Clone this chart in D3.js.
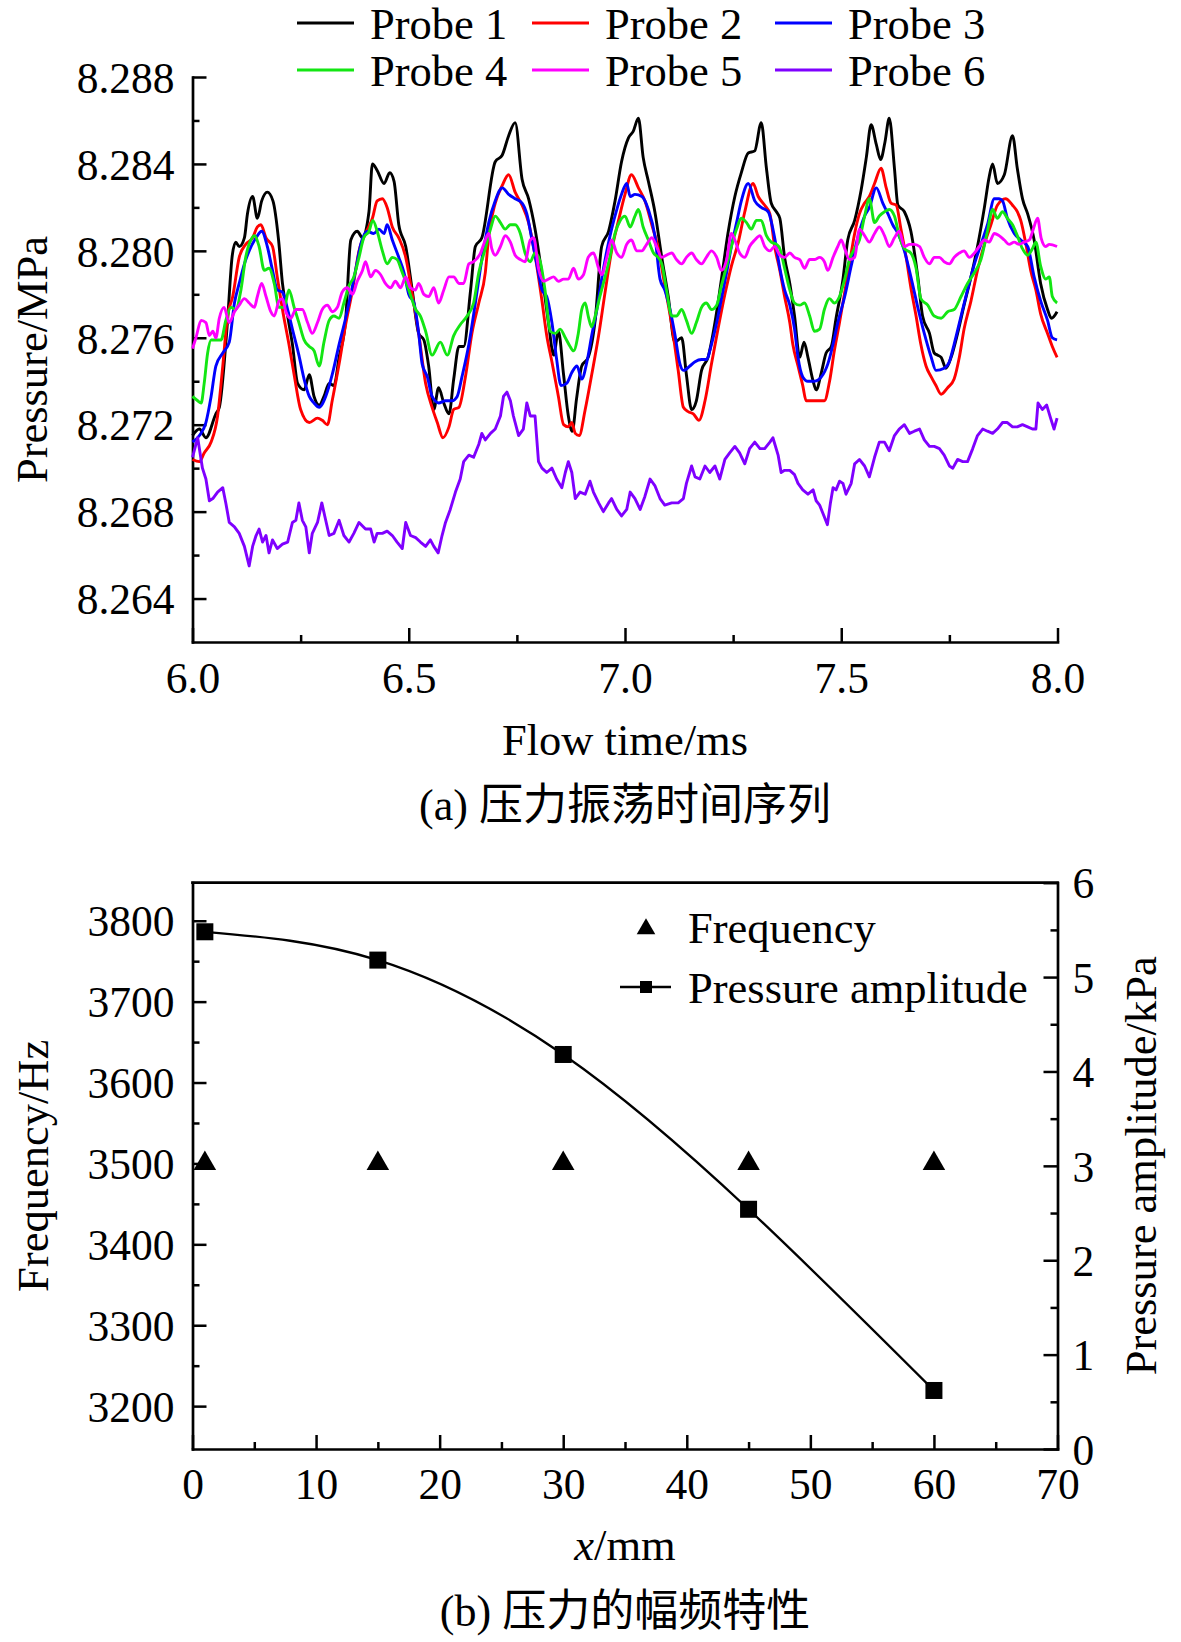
<!DOCTYPE html>
<html>
<head>
<meta charset="utf-8">
<script src="https://cdn.jsdelivr.net/npm/d3@7"></script>
<style>
  html, body { margin: 0; padding: 0; background: #fff; }
  svg { display: block; }
</style>
</head>
<body>
<div id="figure"></div>
<script>
// ---- (a) pressure time series, [flow time (ms), pressure (MPa)] ----
const probe1 = [[6.000,8.2715],[6.016,8.2718],[6.031,8.2714],[6.054,8.2725],[6.062,8.2728],[6.080,8.2765],[6.092,8.2798],[6.100,8.2804],[6.108,8.2802],[6.120,8.2806],[6.127,8.2817],[6.139,8.2825],[6.150,8.2815],[6.160,8.2823],[6.173,8.2827],[6.186,8.2823],[6.199,8.2805],[6.208,8.2785],[6.220,8.2770],[6.231,8.2757],[6.243,8.2739],[6.258,8.2736],[6.270,8.2743],[6.281,8.2733],[6.293,8.2729],[6.304,8.2733],[6.316,8.2739],[6.327,8.2738],[6.339,8.2751],[6.354,8.2768],[6.366,8.2805],[6.381,8.2809],[6.393,8.2806],[6.408,8.2818],[6.416,8.2840],[6.427,8.2837],[6.443,8.2831],[6.456,8.2836],[6.466,8.2832],[6.477,8.2812],[6.493,8.2802],[6.508,8.2782],[6.523,8.2762],[6.535,8.2759],[6.546,8.2747],[6.558,8.2727],[6.569,8.2737],[6.581,8.2730],[6.593,8.2725],[6.604,8.2741],[6.616,8.2756],[6.627,8.2756],[6.643,8.2782],[6.654,8.2802],[6.669,8.2806],[6.700,8.2841],[6.716,8.2844],[6.731,8.2853],[6.746,8.2859],[6.762,8.2833],[6.777,8.2824],[6.792,8.2810],[6.808,8.2789],[6.823,8.2767],[6.835,8.2752],[6.846,8.2763],[6.858,8.2743],[6.869,8.2724],[6.878,8.2717],[6.888,8.2732],[6.900,8.2747],[6.915,8.2751],[6.931,8.2768],[6.946,8.2802],[6.962,8.2809],[6.977,8.2823],[6.992,8.2841],[7.008,8.2852],[7.019,8.2855],[7.031,8.2861],[7.042,8.2843],[7.054,8.2832],[7.069,8.2818],[7.085,8.2797],[7.100,8.2779],[7.115,8.2758],[7.131,8.2760],[7.142,8.2743],[7.154,8.2727],[7.165,8.2731],[7.177,8.2745],[7.192,8.2751],[7.208,8.2767],[7.223,8.2787],[7.238,8.2808],[7.254,8.2825],[7.269,8.2836],[7.285,8.2845],[7.300,8.2846],[7.315,8.2859],[7.327,8.2838],[7.338,8.2822],[7.350,8.2818],[7.358,8.2815],[7.369,8.2797],[7.381,8.2785],[7.392,8.2770],[7.404,8.2751],[7.414,8.2758],[7.423,8.2751],[7.435,8.2740],[7.442,8.2736],[7.454,8.2744],[7.465,8.2753],[7.477,8.2756],[7.488,8.2769],[7.504,8.2787],[7.515,8.2805],[7.531,8.2814],[7.546,8.2828],[7.558,8.2843],[7.569,8.2858],[7.581,8.2849],[7.591,8.2842],[7.601,8.2850],[7.611,8.2861],[7.623,8.2838],[7.631,8.2821],[7.646,8.2818],[7.661,8.2809],[7.677,8.2788],[7.688,8.2770],[7.704,8.2762],[7.715,8.2753],[7.723,8.2752],[7.731,8.2751],[7.742,8.2746],[7.754,8.2751],[7.769,8.2762],[7.784,8.2775],[7.800,8.2788],[7.815,8.2802],[7.831,8.2820],[7.842,8.2834],[7.850,8.2840],[7.861,8.2831],[7.877,8.2835],[7.896,8.2853],[7.907,8.2838],[7.919,8.2824],[7.931,8.2817],[7.946,8.2805],[7.961,8.2785],[7.977,8.2773],[7.986,8.2769],[7.999,8.2772]];

const probe2 = [[6.000,8.2704],[6.016,8.2703],[6.027,8.2707],[6.043,8.2712],[6.058,8.2724],[6.070,8.2747],[6.081,8.2770],[6.093,8.2779],[6.108,8.2797],[6.123,8.2803],[6.139,8.2806],[6.150,8.2811],[6.158,8.2812],[6.170,8.2806],[6.185,8.2802],[6.196,8.2788],[6.208,8.2773],[6.223,8.2757],[6.235,8.2743],[6.250,8.2727],[6.270,8.2721],[6.289,8.2723],[6.300,8.2722],[6.312,8.2720],[6.323,8.2731],[6.339,8.2748],[6.354,8.2766],[6.370,8.2782],[6.385,8.2800],[6.400,8.2808],[6.416,8.2815],[6.427,8.2823],[6.439,8.2824],[6.450,8.2820],[6.462,8.2811],[6.477,8.2806],[6.493,8.2797],[6.508,8.2780],[6.523,8.2762],[6.539,8.2739],[6.554,8.2728],[6.566,8.2721],[6.579,8.2714],[6.593,8.2719],[6.604,8.2727],[6.616,8.2728],[6.631,8.2742],[6.646,8.2762],[6.662,8.2776],[6.677,8.2790],[6.685,8.2807],[6.700,8.2822],[6.716,8.2830],[6.731,8.2835],[6.746,8.2827],[6.762,8.2821],[6.777,8.2813],[6.792,8.2798],[6.808,8.2777],[6.819,8.2761],[6.831,8.2749],[6.846,8.2733],[6.858,8.2720],[6.869,8.2719],[6.877,8.2721],[6.885,8.2716],[6.894,8.2715],[6.908,8.2727],[6.923,8.2743],[6.939,8.2761],[6.954,8.2781],[6.969,8.2800],[6.985,8.2814],[7.000,8.2826],[7.015,8.2835],[7.031,8.2829],[7.046,8.2823],[7.062,8.2812],[7.077,8.2801],[7.092,8.2784],[7.108,8.2766],[7.123,8.2745],[7.135,8.2728],[7.146,8.2726],[7.158,8.2725],[7.171,8.2722],[7.185,8.2731],[7.200,8.2748],[7.215,8.2764],[7.231,8.2780],[7.246,8.2793],[7.262,8.2804],[7.277,8.2818],[7.296,8.2831],[7.308,8.2825],[7.323,8.2821],[7.335,8.2817],[7.346,8.2802],[7.358,8.2791],[7.369,8.2779],[7.381,8.2767],[7.388,8.2757],[7.400,8.2747],[7.411,8.2738],[7.419,8.2731],[7.431,8.2731],[7.446,8.2731],[7.461,8.2731],[7.473,8.2740],[7.484,8.2754],[7.496,8.2767],[7.508,8.2781],[7.519,8.2794],[7.531,8.2808],[7.542,8.2817],[7.554,8.2822],[7.565,8.2825],[7.577,8.2831],[7.592,8.2838],[7.604,8.2829],[7.615,8.2822],[7.627,8.2821],[7.638,8.2810],[7.650,8.2797],[7.661,8.2783],[7.673,8.2770],[7.684,8.2757],[7.696,8.2747],[7.708,8.2742],[7.719,8.2738],[7.731,8.2734],[7.746,8.2737],[7.761,8.2741],[7.773,8.2751],[7.784,8.2764],[7.800,8.2777],[7.815,8.2791],[7.831,8.2803],[7.846,8.2812],[7.861,8.2821],[7.880,8.2824],[7.896,8.2821],[7.907,8.2818],[7.915,8.2814],[7.927,8.2803],[7.938,8.2791],[7.950,8.2782],[7.961,8.2771],[7.977,8.2762],[7.988,8.2756],[7.999,8.2751]];

const probe3 = [[6.000,8.2712],[6.016,8.2715],[6.031,8.2721],[6.043,8.2733],[6.054,8.2747],[6.070,8.2753],[6.085,8.2758],[6.097,8.2776],[6.108,8.2785],[6.120,8.2794],[6.131,8.2800],[6.147,8.2806],[6.160,8.2809],[6.173,8.2802],[6.185,8.2791],[6.196,8.2782],[6.208,8.2781],[6.220,8.2773],[6.231,8.2764],[6.246,8.2752],[6.258,8.2741],[6.270,8.2733],[6.281,8.2730],[6.293,8.2728],[6.308,8.2733],[6.323,8.2743],[6.339,8.2757],[6.354,8.2769],[6.366,8.2780],[6.377,8.2791],[6.389,8.2803],[6.404,8.2809],[6.419,8.2808],[6.431,8.2810],[6.443,8.2808],[6.450,8.2812],[6.462,8.2805],[6.477,8.2797],[6.489,8.2790],[6.500,8.2780],[6.512,8.2776],[6.523,8.2762],[6.531,8.2748],[6.543,8.2742],[6.554,8.2733],[6.569,8.2730],[6.585,8.2731],[6.600,8.2731],[6.612,8.2733],[6.623,8.2742],[6.639,8.2757],[6.654,8.2776],[6.669,8.2796],[6.685,8.2813],[6.700,8.2823],[6.716,8.2829],[6.731,8.2826],[6.746,8.2824],[6.762,8.2822],[6.773,8.2817],[6.785,8.2805],[6.796,8.2794],[6.808,8.2782],[6.819,8.2779],[6.831,8.2767],[6.842,8.2750],[6.852,8.2738],[6.865,8.2739],[6.877,8.2744],[6.889,8.2747],[6.900,8.2741],[6.912,8.2749],[6.923,8.2761],[6.935,8.2773],[6.946,8.2787],[6.958,8.2800],[6.969,8.2810],[6.981,8.2819],[6.992,8.2826],[7.004,8.2831],[7.012,8.2825],[7.023,8.2826],[7.039,8.2825],[7.054,8.2819],[7.069,8.2807],[7.081,8.2787],[7.092,8.2782],[7.104,8.2773],[7.115,8.2762],[7.127,8.2748],[7.135,8.2745],[7.150,8.2747],[7.162,8.2749],[7.177,8.2750],[7.188,8.2750],[7.200,8.2757],[7.212,8.2767],[7.223,8.2778],[7.235,8.2790],[7.246,8.2802],[7.258,8.2813],[7.269,8.2823],[7.285,8.2831],[7.300,8.2823],[7.315,8.2820],[7.331,8.2818],[7.346,8.2806],[7.358,8.2792],[7.369,8.2782],[7.381,8.2775],[7.392,8.2764],[7.400,8.2751],[7.411,8.2742],[7.423,8.2740],[7.438,8.2740],[7.454,8.2742],[7.469,8.2748],[7.481,8.2757],[7.492,8.2767],[7.508,8.2779],[7.523,8.2793],[7.538,8.2806],[7.554,8.2816],[7.565,8.2820],[7.581,8.2829],[7.596,8.2822],[7.608,8.2817],[7.619,8.2812],[7.631,8.2808],[7.646,8.2800],[7.661,8.2788],[7.677,8.2774],[7.692,8.2762],[7.708,8.2751],[7.719,8.2745],[7.738,8.2746],[7.750,8.2749],[7.761,8.2757],[7.777,8.2770],[7.792,8.2782],[7.808,8.2794],[7.823,8.2803],[7.838,8.2812],[7.854,8.2824],[7.865,8.2824],[7.873,8.2823],[7.884,8.2815],[7.900,8.2808],[7.915,8.2805],[7.931,8.2802],[7.946,8.2788],[7.961,8.2777],[7.977,8.2768],[7.988,8.2760],[7.999,8.2759]];

const probe4 = [[6.000,8.2733],[6.012,8.2731],[6.020,8.2730],[6.027,8.2739],[6.035,8.2753],[6.043,8.2759],[6.054,8.2759],[6.066,8.2759],[6.077,8.2768],[6.089,8.2774],[6.100,8.2773],[6.112,8.2782],[6.123,8.2797],[6.135,8.2805],[6.143,8.2807],[6.154,8.2802],[6.166,8.2791],[6.177,8.2792],[6.189,8.2785],[6.200,8.2774],[6.212,8.2774],[6.223,8.2782],[6.235,8.2774],[6.246,8.2767],[6.258,8.2759],[6.270,8.2756],[6.281,8.2754],[6.293,8.2747],[6.304,8.2758],[6.316,8.2768],[6.327,8.2770],[6.339,8.2769],[6.350,8.2776],[6.362,8.2784],[6.373,8.2788],[6.385,8.2797],[6.396,8.2806],[6.408,8.2809],[6.417,8.2814],[6.427,8.2809],[6.439,8.2800],[6.450,8.2794],[6.462,8.2797],[6.473,8.2796],[6.485,8.2790],[6.500,8.2782],[6.516,8.2773],[6.527,8.2770],[6.539,8.2763],[6.554,8.2752],[6.573,8.2758],[6.589,8.2752],[6.604,8.2761],[6.619,8.2766],[6.635,8.2770],[6.650,8.2776],[6.662,8.2790],[6.677,8.2801],[6.689,8.2810],[6.700,8.2816],[6.712,8.2813],[6.723,8.2810],[6.735,8.2812],[6.746,8.2812],[6.758,8.2808],[6.769,8.2799],[6.781,8.2795],[6.792,8.2799],[6.804,8.2795],[6.815,8.2782],[6.827,8.2763],[6.839,8.2762],[6.850,8.2764],[6.862,8.2760],[6.873,8.2756],[6.881,8.2754],[6.892,8.2762],[6.900,8.2773],[6.908,8.2776],[6.915,8.2770],[6.923,8.2765],[6.931,8.2770],[6.942,8.2779],[6.954,8.2788],[6.965,8.2797],[6.977,8.2808],[6.989,8.2814],[7.000,8.2816],[7.012,8.2811],[7.023,8.2816],[7.031,8.2819],[7.042,8.2811],[7.054,8.2805],[7.066,8.2799],[7.077,8.2797],[7.085,8.2794],[7.096,8.2782],[7.108,8.2770],[7.119,8.2770],[7.131,8.2773],[7.142,8.2768],[7.154,8.2762],[7.165,8.2767],[7.177,8.2774],[7.188,8.2776],[7.200,8.2773],[7.212,8.2775],[7.223,8.2784],[7.235,8.2793],[7.246,8.2802],[7.258,8.2810],[7.269,8.2815],[7.281,8.2813],[7.292,8.2810],[7.304,8.2814],[7.315,8.2814],[7.327,8.2807],[7.338,8.2804],[7.350,8.2803],[7.358,8.2801],[7.369,8.2792],[7.381,8.2782],[7.392,8.2776],[7.404,8.2775],[7.415,8.2776],[7.427,8.2770],[7.438,8.2763],[7.450,8.2764],[7.461,8.2773],[7.473,8.2778],[7.484,8.2776],[7.496,8.2779],[7.508,8.2787],[7.519,8.2796],[7.531,8.2801],[7.542,8.2805],[7.554,8.2816],[7.565,8.2824],[7.577,8.2813],[7.588,8.2816],[7.600,8.2818],[7.611,8.2819],[7.623,8.2816],[7.634,8.2807],[7.646,8.2801],[7.661,8.2799],[7.673,8.2792],[7.684,8.2778],[7.700,8.2775],[7.715,8.2770],[7.731,8.2769],[7.746,8.2772],[7.761,8.2773],[7.777,8.2779],[7.792,8.2785],[7.808,8.2790],[7.823,8.2796],[7.838,8.2809],[7.850,8.2819],[7.861,8.2815],[7.873,8.2818],[7.884,8.2815],[7.896,8.2812],[7.907,8.2807],[7.919,8.2801],[7.931,8.2798],[7.942,8.2801],[7.950,8.2804],[7.961,8.2793],[7.973,8.2787],[7.981,8.2788],[7.988,8.2779],[7.999,8.2776]];

const probe5 = [[6.000,8.2755],[6.008,8.2760],[6.020,8.2768],[6.031,8.2767],[6.039,8.2761],[6.047,8.2763],[6.054,8.2760],[6.062,8.2769],[6.073,8.2774],[6.085,8.2767],[6.097,8.2772],[6.108,8.2775],[6.120,8.2778],[6.131,8.2776],[6.143,8.2774],[6.150,8.2779],[6.160,8.2785],[6.170,8.2779],[6.181,8.2772],[6.189,8.2770],[6.200,8.2777],[6.208,8.2778],[6.216,8.2772],[6.227,8.2769],[6.239,8.2773],[6.254,8.2773],[6.266,8.2767],[6.277,8.2762],[6.289,8.2767],[6.300,8.2773],[6.312,8.2775],[6.323,8.2772],[6.335,8.2774],[6.346,8.2781],[6.358,8.2783],[6.370,8.2780],[6.381,8.2786],[6.393,8.2791],[6.400,8.2795],[6.412,8.2788],[6.423,8.2791],[6.435,8.2789],[6.446,8.2785],[6.458,8.2783],[6.469,8.2786],[6.481,8.2783],[6.493,8.2788],[6.504,8.2783],[6.515,8.2782],[6.523,8.2785],[6.535,8.2780],[6.546,8.2779],[6.558,8.2783],[6.569,8.2776],[6.581,8.2782],[6.593,8.2788],[6.604,8.2788],[6.616,8.2785],[6.627,8.2785],[6.639,8.2794],[6.650,8.2795],[6.666,8.2799],[6.677,8.2805],[6.685,8.2808],[6.692,8.2801],[6.700,8.2798],[6.712,8.2802],[6.723,8.2807],[6.735,8.2804],[6.746,8.2798],[6.758,8.2796],[6.769,8.2795],[6.781,8.2805],[6.789,8.2806],[6.800,8.2792],[6.812,8.2786],[6.823,8.2787],[6.835,8.2788],[6.846,8.2786],[6.858,8.2787],[6.869,8.2787],[6.881,8.2792],[6.892,8.2787],[6.904,8.2789],[6.915,8.2797],[6.927,8.2799],[6.939,8.2792],[6.946,8.2789],[6.958,8.2797],[6.969,8.2805],[6.981,8.2799],[6.992,8.2797],[7.004,8.2803],[7.015,8.2805],[7.027,8.2800],[7.039,8.2800],[7.050,8.2803],[7.062,8.2806],[7.073,8.2802],[7.085,8.2797],[7.096,8.2798],[7.108,8.2799],[7.119,8.2796],[7.131,8.2794],[7.142,8.2797],[7.154,8.2799],[7.165,8.2796],[7.177,8.2794],[7.188,8.2797],[7.200,8.2800],[7.212,8.2797],[7.223,8.2791],[7.235,8.2796],[7.246,8.2808],[7.254,8.2805],[7.265,8.2799],[7.277,8.2797],[7.288,8.2802],[7.300,8.2805],[7.312,8.2807],[7.323,8.2802],[7.335,8.2800],[7.346,8.2802],[7.358,8.2798],[7.369,8.2797],[7.381,8.2799],[7.392,8.2797],[7.404,8.2796],[7.415,8.2792],[7.427,8.2796],[7.438,8.2796],[7.450,8.2797],[7.461,8.2795],[7.469,8.2791],[7.481,8.2797],[7.492,8.2802],[7.500,8.2805],[7.508,8.2801],[7.519,8.2796],[7.531,8.2797],[7.542,8.2810],[7.554,8.2807],[7.565,8.2804],[7.577,8.2808],[7.588,8.2811],[7.600,8.2807],[7.611,8.2802],[7.623,8.2806],[7.634,8.2809],[7.646,8.2802],[7.658,8.2803],[7.669,8.2803],[7.681,8.2802],[7.692,8.2797],[7.704,8.2794],[7.715,8.2797],[7.727,8.2797],[7.738,8.2795],[7.750,8.2794],[7.761,8.2797],[7.773,8.2799],[7.784,8.2800],[7.796,8.2797],[7.808,8.2799],[7.819,8.2802],[7.831,8.2805],[7.842,8.2804],[7.854,8.2808],[7.865,8.2807],[7.877,8.2805],[7.888,8.2803],[7.900,8.2804],[7.911,8.2803],[7.923,8.2804],[7.935,8.2805],[7.944,8.2810],[7.954,8.2815],[7.962,8.2806],[7.973,8.2802],[7.981,8.2803],[7.999,8.2802]];

const probe6 = [[6.000,8.2705],[6.012,8.2714],[6.023,8.2700],[6.031,8.2695],[6.039,8.2685],[6.047,8.2686],[6.058,8.2689],[6.070,8.2691],[6.077,8.2684],[6.085,8.2675],[6.097,8.2673],[6.108,8.2670],[6.120,8.2664],[6.131,8.2655],[6.139,8.2664],[6.147,8.2669],[6.154,8.2672],[6.162,8.2666],[6.170,8.2669],[6.177,8.2661],[6.185,8.2667],[6.196,8.2663],[6.208,8.2665],[6.220,8.2666],[6.231,8.2675],[6.239,8.2676],[6.246,8.2684],[6.254,8.2676],[6.262,8.2673],[6.270,8.2661],[6.277,8.2670],[6.289,8.2675],[6.299,8.2684],[6.308,8.2676],[6.316,8.2669],[6.327,8.2670],[6.339,8.2676],[6.350,8.2669],[6.362,8.2666],[6.373,8.2670],[6.385,8.2675],[6.400,8.2672],[6.412,8.2672],[6.420,8.2666],[6.427,8.2670],[6.439,8.2670],[6.450,8.2671],[6.462,8.2669],[6.473,8.2666],[6.485,8.2663],[6.493,8.2675],[6.504,8.2669],[6.516,8.2668],[6.527,8.2666],[6.539,8.2664],[6.550,8.2667],[6.558,8.2664],[6.568,8.2661],[6.577,8.2669],[6.585,8.2675],[6.596,8.2681],[6.608,8.2689],[6.619,8.2695],[6.627,8.2703],[6.639,8.2706],[6.650,8.2705],[6.662,8.2711],[6.669,8.2716],[6.677,8.2713],[6.689,8.2716],[6.700,8.2718],[6.712,8.2724],[6.719,8.2733],[6.727,8.2735],[6.735,8.2731],[6.742,8.2724],[6.754,8.2715],[6.765,8.2718],[6.773,8.2730],[6.781,8.2724],[6.792,8.2724],[6.800,8.2703],[6.808,8.2700],[6.819,8.2698],[6.831,8.2700],[6.842,8.2695],[6.854,8.2691],[6.862,8.2698],[6.869,8.2703],[6.877,8.2698],[6.885,8.2686],[6.896,8.2689],[6.908,8.2688],[6.919,8.2694],[6.927,8.2689],[6.939,8.2684],[6.950,8.2680],[6.962,8.2684],[6.969,8.2686],[6.981,8.2681],[6.992,8.2678],[7.004,8.2681],[7.012,8.2689],[7.023,8.2686],[7.035,8.2681],[7.046,8.2687],[7.058,8.2695],[7.069,8.2692],[7.081,8.2686],[7.092,8.2683],[7.108,8.2684],[7.123,8.2684],[7.135,8.2686],[7.142,8.2693],[7.154,8.2701],[7.162,8.2696],[7.173,8.2695],[7.185,8.2701],[7.196,8.2698],[7.208,8.2701],[7.219,8.2695],[7.231,8.2704],[7.242,8.2707],[7.254,8.2710],[7.265,8.2707],[7.277,8.2702],[7.288,8.2709],[7.300,8.2712],[7.312,8.2709],[7.323,8.2709],[7.335,8.2712],[7.342,8.2714],[7.354,8.2706],[7.361,8.2698],[7.369,8.2699],[7.381,8.2699],[7.392,8.2697],[7.400,8.2693],[7.411,8.2690],[7.423,8.2688],[7.435,8.2690],[7.442,8.2685],[7.450,8.2683],[7.458,8.2679],[7.468,8.2674],[7.475,8.2684],[7.481,8.2691],[7.488,8.2690],[7.496,8.2694],[7.504,8.2693],[7.511,8.2688],[7.523,8.2693],[7.531,8.2702],[7.542,8.2704],[7.554,8.2701],[7.565,8.2696],[7.577,8.2705],[7.588,8.2712],[7.600,8.2712],[7.611,8.2708],[7.623,8.2715],[7.634,8.2718],[7.646,8.2720],[7.658,8.2716],[7.669,8.2717],[7.681,8.2718],[7.692,8.2713],[7.704,8.2710],[7.715,8.2710],[7.727,8.2709],[7.738,8.2706],[7.750,8.2701],[7.758,8.2700],[7.769,8.2704],[7.781,8.2703],[7.792,8.2703],[7.804,8.2709],[7.815,8.2715],[7.827,8.2718],[7.838,8.2717],[7.850,8.2716],[7.861,8.2718],[7.873,8.2721],[7.884,8.2721],[7.896,8.2719],[7.907,8.2719],[7.919,8.2720],[7.931,8.2719],[7.942,8.2718],[7.950,8.2718],[7.955,8.2730],[7.965,8.2727],[7.975,8.2729],[7.984,8.2723],[7.992,8.2718],[7.999,8.2723]];

const probeNames = ['Probe 1', 'Probe 2', 'Probe 3', 'Probe 4', 'Probe 5', 'Probe 6'];
const probeColors = ['#000000', '#ff0000', '#0000ff', '#13e613', '#ff00ff', '#7f00ff'];

const timeTicks = [6.0, 6.5, 7.0, 7.5, 8.0];
const timeMinorTicks = [6.25, 6.75, 7.25, 7.75];
const pressureTicks = [8.264, 8.268, 8.272, 8.276, 8.280, 8.284, 8.288];
const pressureMinorTicks = [8.266, 8.270, 8.274, 8.278, 8.282, 8.286];

// ---- (b) amplitude / frequency versus probe position ----
const positions = [1, 15, 30, 45, 60];           // x, mm
const frequencyHz = [3500, 3500, 3500, 3500, 3500];
const amplitudeKPa = [5.48, 5.18, 4.18, 2.54, 0.62];

const positionTicks = [0, 10, 20, 30, 40, 50, 60, 70];
const positionMinorTicks = [5, 15, 25, 35, 45, 55, 65];
const frequencyTicks = [3200, 3300, 3400, 3500, 3600, 3700, 3800];
const frequencyMinorTicks = [3250, 3350, 3450, 3550, 3650, 3750];
const amplitudeTicks = [0, 1, 2, 3, 4, 5, 6];
const amplitudeMinorTicks = [0.5, 1.5, 2.5, 3.5, 4.5, 5.5];

(function(){
  const FONT = '"Times New Roman", "Liberation Serif", "Noto Sans CJK SC", serif';
  const TICK_FS = 43.5;   // tick labels
  const FS = 44.5;        // titles and legend text

  const svg = d3.select('#figure').append('svg')
    .attr('width', 1181).attr('height', 1642)
    .attr('font-family', FONT)
    .style('background', '#fff');

  // Shared look for the inward-ticked axes.
  function styleAxis(g){
    g.attr('font-family', FONT).attr('font-size', TICK_FS);
    g.select('.domain').attr('stroke-width', 2.7).attr('stroke-linecap', 'square');
    g.selectAll('.tick line').attr('stroke-width', 2.5);
    g.selectAll('.tick text').attr('fill', '#000');
  }
  function minorAxis(g){
    g.select('.domain').remove();
    g.selectAll('.tick line').attr('stroke-width', 2.5);
  }

  // ================= (a) =================
  const x = d3.scaleLinear().domain([6, 8]).range([192.5, 1057.5]);
  const y = d3.scaleLinear().domain([8.262, 8.288]).range([642, 77]);

  const top = svg.append('g');

  top.append('g').attr('transform', `translate(0,${y(8.262)})`)
    .call(d3.axisBottom(x).tickValues(timeTicks).tickFormat(d3.format('.1f'))
      .tickSizeInner(-14).tickSizeOuter(0).tickPadding(20))
    .call(styleAxis);
  top.append('g').attr('transform', `translate(0,${y(8.262)})`)
    .call(d3.axisBottom(x).tickValues(timeMinorTicks).tickFormat('').tickSize(-7))
    .call(minorAxis);

  top.append('g').attr('transform', `translate(${x(6)},0)`)
    .call(d3.axisLeft(y).tickValues(pressureTicks).tickFormat(d3.format('.3f'))
      .tickSizeInner(-14).tickSizeOuter(0).tickPadding(18))
    .call(styleAxis)
    .call(g => g.selectAll('.tick text').attr('dy', '0.35em'));
  top.append('g').attr('transform', `translate(${x(6)},0)`)
    .call(d3.axisLeft(y).tickValues(pressureMinorTicks).tickFormat('').tickSize(-7))
    .call(minorAxis);

  const series = [probe1, probe2, probe3, probe4, probe5, probe6];
  const line = d3.line().x(d => x(d[0])).y(d => y(d[1]));

  top.append('g').selectAll('path')
    .data(series)
    .join('path')
    .attr('fill', 'none')
    .attr('stroke', (d, i) => probeColors[i])
    .attr('stroke-width', 2.9)
    .attr('stroke-linejoin', 'round')
    .attr('d', (d, i) => line.curve(i === 5 ? d3.curveLinear : d3.curveMonotoneX)(d));

  // Legend: 3 columns x 2 rows above the plot.
  const legendCols = [297, 532, 775];
  const legendRows = [23, 70];
  const legend = top.append('g').selectAll('g')
    .data(probeNames)
    .join('g')
    .attr('transform', (d, i) => `translate(${legendCols[i % 3]},${legendRows[Math.floor(i / 3)]})`);
  legend.append('line')
    .attr('x1', 0).attr('x2', 57)
    .attr('stroke', (d, i) => probeColors[i])
    .attr('stroke-width', 2.9);
  legend.append('text')
    .attr('x', 73).attr('dy', '0.35em')
    .attr('font-size', FS)
    .text(d => d);

  top.append('text')
    .attr('transform', `translate(47,${(y(8.262) + y(8.288)) / 2}) rotate(-90)`)
    .attr('text-anchor', 'middle').attr('font-size', FS)
    .text('Pressure/MPa');
  top.append('text')
    .attr('x', 625).attr('y', 755)
    .attr('text-anchor', 'middle').attr('font-size', FS)
    .text('Flow time/ms');
  top.append('text')
    .attr('x', 625).attr('y', 820)
    .attr('text-anchor', 'middle').attr('font-size', 44)
    .text('(a) 压力振荡时间序列');

  // ================= (b) =================
  const x2 = d3.scaleLinear().domain([0, 70]).range([192.5, 1057.5]);
  const yF = d3.scaleLinear().domain([3147, 3847]).range([1449, 882.7]);
  const yA = d3.scaleLinear().domain([0, 6]).range([1449, 882.7]);

  const bottom = svg.append('g');

  // Top border of the frame.
  bottom.append('line')
    .attr('x1', x2(0)).attr('x2', x2(70))
    .attr('y1', yA(6)).attr('y2', yA(6))
    .attr('stroke', '#000').attr('stroke-width', 2.7).attr('stroke-linecap', 'square');

  bottom.append('g').attr('transform', `translate(0,${yA(0)})`)
    .call(d3.axisBottom(x2).tickValues(positionTicks).tickFormat(d3.format('d'))
      .tickSizeInner(-14).tickSizeOuter(0).tickPadding(19))
    .call(styleAxis);
  bottom.append('g').attr('transform', `translate(0,${yA(0)})`)
    .call(d3.axisBottom(x2).tickValues(positionMinorTicks).tickFormat('').tickSize(-7))
    .call(minorAxis);

  bottom.append('g').attr('transform', `translate(${x2(0)},0)`)
    .call(d3.axisLeft(yF).tickValues(frequencyTicks).tickFormat(d3.format('d'))
      .tickSizeInner(-14).tickSizeOuter(0).tickPadding(18))
    .call(styleAxis)
    .call(g => g.selectAll('.tick text').attr('dy', '0.35em'));
  bottom.append('g').attr('transform', `translate(${x2(0)},0)`)
    .call(d3.axisLeft(yF).tickValues(frequencyMinorTicks).tickFormat('').tickSize(-7))
    .call(minorAxis);

  bottom.append('g').attr('transform', `translate(${x2(70)},0)`)
    .call(d3.axisRight(yA).tickValues(amplitudeTicks).tickFormat(d3.format('d'))
      .tickSizeInner(-14).tickSizeOuter(0).tickPadding(15))
    .call(styleAxis)
    .call(g => g.selectAll('.tick text').attr('dy', '0.35em'));
  bottom.append('g').attr('transform', `translate(${x2(70)},0)`)
    .call(d3.axisRight(yA).tickValues(amplitudeMinorTicks).tickFormat('').tickSize(-7))
    .call(minorAxis);

  // Pressure amplitude: smooth curve with square markers.
  const amp = positions.map((p, i) => [p, amplitudeKPa[i]]);
  bottom.append('path')
    .datum(amp)
    .attr('fill', 'none').attr('stroke', '#000').attr('stroke-width', 2.3)
    .attr('d', d3.line().x(d => x2(d[0])).y(d => yA(d[1])).curve(d3.curveNatural));

  const sq = 17;
  bottom.append('g').selectAll('rect')
    .data(amp)
    .join('rect')
    .attr('x', d => x2(d[0]) - sq / 2).attr('y', d => yA(d[1]) - sq / 2)
    .attr('width', sq).attr('height', sq)
    .attr('fill', '#000');

  // Frequency: triangles only.
  const tri = d3.symbol(d3.symbolTriangle, 220);
  bottom.append('g').selectAll('path')
    .data(positions.map((p, i) => [p, frequencyHz[i]]))
    .join('path')
    .attr('transform', d => `translate(${x2(d[0])},${yF(d[1])})`)
    .attr('d', tri)
    .attr('fill', '#000');

  // Legend inside the frame.
  const lg = bottom.append('g');
  lg.append('path')
    .attr('transform', 'translate(646,929)')
    .attr('d', d3.symbol(d3.symbolTriangle, 150))
    .attr('fill', '#000');
  lg.append('text').attr('x', 688).attr('y', 927).attr('dy', '0.35em')
    .attr('font-size', FS).text('Frequency');
  lg.append('line')
    .attr('x1', 620).attr('x2', 671).attr('y1', 987).attr('y2', 987)
    .attr('stroke', '#000').attr('stroke-width', 2.3);
  lg.append('rect')
    .attr('x', 640).attr('y', 981).attr('width', 12).attr('height', 12)
    .attr('fill', '#000');
  lg.append('text').attr('x', 688).attr('y', 987).attr('dy', '0.35em')
    .attr('font-size', FS).text('Pressure amplitude');

  const midB = (yA(0) + yA(6)) / 2;
  bottom.append('text')
    .attr('transform', `translate(48,${midB}) rotate(-90)`)
    .attr('text-anchor', 'middle').attr('font-size', FS)
    .text('Frequency/Hz');
  bottom.append('text')
    .attr('transform', `translate(1156,${midB}) rotate(-90)`)
    .attr('text-anchor', 'middle').attr('font-size', FS)
    .text('Pressure amplitude/kPa');

  const xl = bottom.append('text')
    .attr('x', 625).attr('y', 1560)
    .attr('text-anchor', 'middle').attr('font-size', FS);
  xl.append('tspan').attr('font-style', 'italic').text('x');
  xl.append('tspan').text('/mm');

  bottom.append('text')
    .attr('x', 625).attr('y', 1626)
    .attr('text-anchor', 'middle').attr('font-size', 44)
    .text('(b) 压力的幅频特性');
})();
</script>
</body>
</html>
